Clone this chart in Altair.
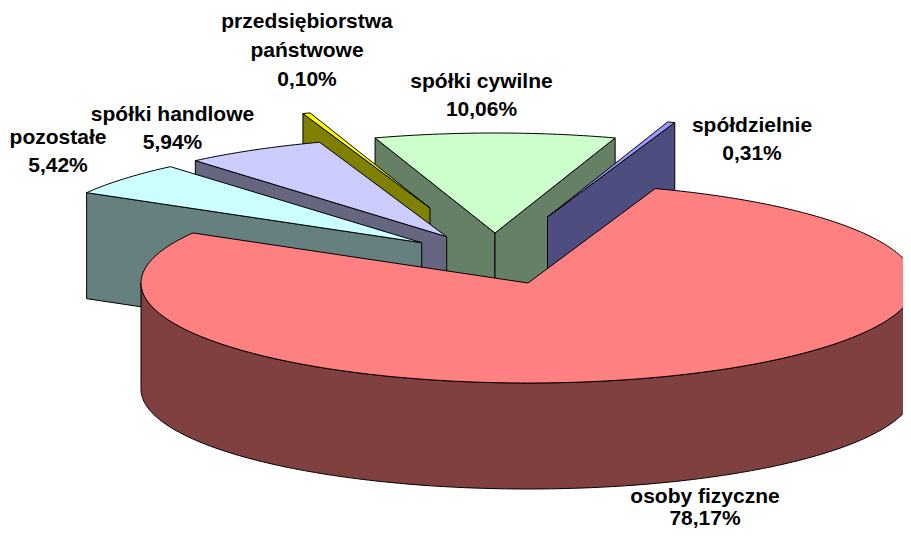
import math
import altair as alt

# Values as printed on the chart (percent), drawn clockwise from the start angle
names = ["osoby fizyczne", "pozostałe", "spółki handlowe",
         "przedsiębiorstwa państwowe", "spółki cywilne", "spółdzielnie"]
shares = [78.17, 5.42, 5.94, 0.10, 10.06, 0.31]
percent_labels = ["78,17%", "5,42%", "5,94%", "0,10%", "10,06%", "0,31%"]

# Pie styling
top_colors = ["#FF8080", "#CCFFFF", "#CCCCFF", "#FFFF00", "#CCFFCC", "#9999FF"]
side_colors = ["#804040", "#668080", "#666680", "#808000", "#668066", "#4D4D80"]
draw_order = [4, 5, 3, 2, 1, 0]

# 3D view of the pie (pixels of the picture)
start_angle = 19.2
min_share = 0.31          # hair-thin slices keep a visible width
rx, ry, depth = 387, 100, 106
apexes = [(528, 283), (421.7, 242.7), (446.7, 236.7), (430, 208), (495, 233), (547.5, 217)]

# Label layout: one row per text line
label_lines = [
    ("przedsiębiorstwa", 307, 22), ("państwowe", 307, 51), ("0,10%", 307, 80),
    ("spółki handlowe", 172.5, 115), ("5,94%", 172.5, 143),
    ("pozostałe", 58, 138), ("5,42%", 58, 166),
    ("spółki cywilne", 481.5, 82), ("10,06%", 481.5, 110),
    ("spółdzielnie", 752, 126), ("0,31%", 752, 154),
    ("osoby fizyczne", 705, 497), ("78,17%", 705, 519),
]

shown = [max(s, min_share) for s in shares]
deg_per_pct = 360 / sum(shown)
bounds = []
a = start_angle
for s in shown:
    bounds.append((a, a + s * deg_per_pct))
    a += s * deg_per_pct


def rim(apex, angle):
    t = math.radians(angle)
    return [apex[0] + rx * math.sin(t), apex[1] - ry * math.cos(t)]


def arc(apex, a0, a1):
    n = max(2, int(abs(a1 - a0)) + 1)
    return [rim(apex, a0 + (a1 - a0) * i / n) for i in range(n + 1)]


def down(p):
    return [p[0], p[1] + depth]


def feature(ring, fill):
    ring = [list(p) for p in ring]
    return {"type": "Feature",
            "geometry": {"type": "Polygon", "coordinates": [ring + [ring[0]]]},
            "properties": {"fill": fill}}


features = []
for i in draw_order:
    apex = apexes[i]
    a0, a1 = bounds[i]
    for edge, normal in ((a0, a0 - 90), (a1, a1 + 90)):
        if math.cos(math.radians(normal)) < 0:
            p = rim(apex, edge)
            features.append(feature([list(apex), p, down(p), down(apex)], side_colors[i]))
    lo, hi = max(a0, 90), min(a1, 270)
    if hi > lo:
        front = arc(apex, lo, hi)
        features.append(feature(front + [down(p) for p in reversed(front)], side_colors[i]))
    features.append(feature([list(apex)] + arc(apex, a0, a1), top_colors[i]))

W, H = 895, 520

pie = alt.Chart(alt.InlineData(values=features)).mark_geoshape(
    stroke="black", strokeWidth=1, clip=True
).encode(
    fill=alt.Fill("properties.fill:N", scale=None)
).project(type="identity", scale=1, translate=[-8, -8])

label_rows = [{"text": t, "px": x - 8, "py": y - 8} for t, x, y in label_lines]
labels = alt.Chart(alt.InlineData(values=label_rows)).mark_text(
    font="Liberation Sans", fontWeight="bold", fontSize=21, color="black",
    align="center", baseline="middle"
).encode(
    x=alt.X("px:Q", scale=alt.Scale(domain=[0, W], range=[0, W]), axis=None),
    y=alt.Y("py:Q", scale=alt.Scale(domain=[0, H], range=[0, H]), axis=None),
    text="text:N",
)

chart = alt.layer(pie, labels).resolve_scale(x="independent", y="independent").properties(
    width=W, height=H, padding=0, autosize=alt.AutoSizeParams(type="none"),
    background="white"
).configure_view(stroke=None)

chart.save("out.html", embed_options={"renderer": "svg", "actions": False})
